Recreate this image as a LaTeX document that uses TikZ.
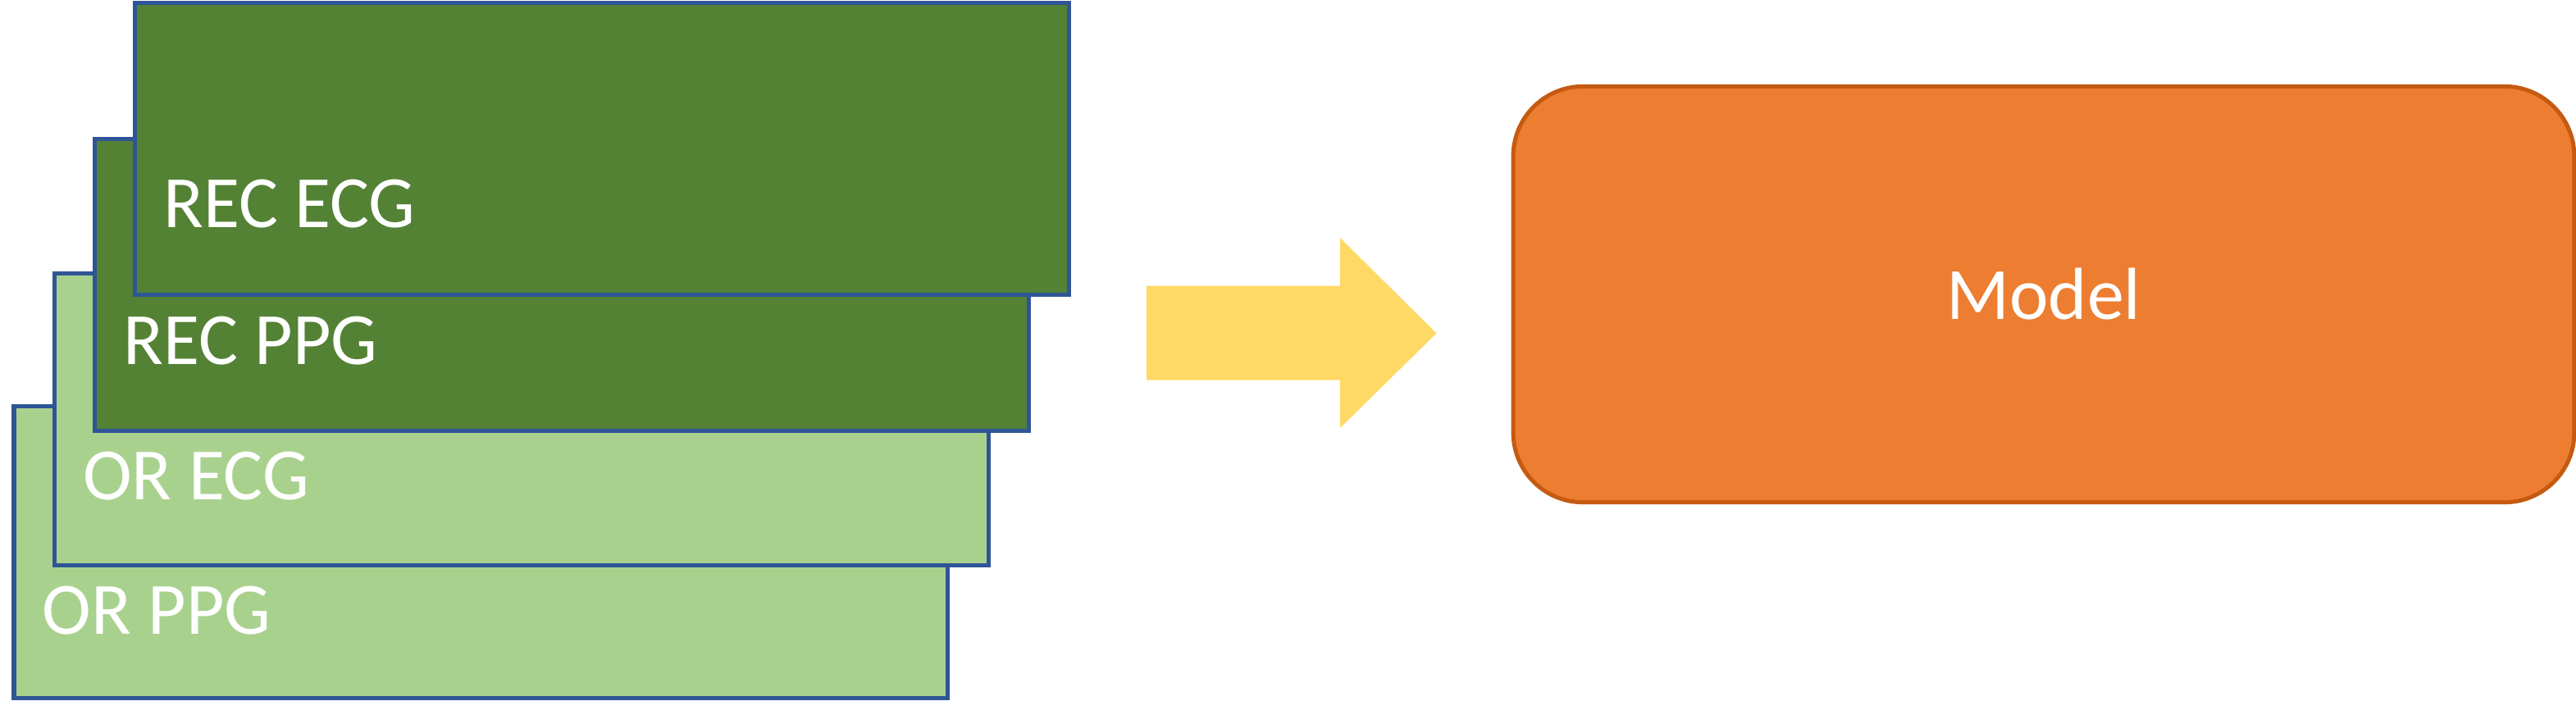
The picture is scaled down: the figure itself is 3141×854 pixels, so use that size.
\documentclass[tikz,border=0pt]{standalone}
\usepackage{fontspec}
\setmainfont{Carlito}
\definecolor{dkgreen}{HTML}{548235}
\definecolor{ltgreen}{HTML}{A9D18E}
\definecolor{bordblue}{HTML}{2F5597}
\definecolor{arrowyellow}{HTML}{FFD966}
\definecolor{modelorange}{HTML}{ED7D31}
\definecolor{modelbord}{HTML}{C55A11}
\begin{document}
\begin{tikzpicture}[x=0.01cm,y=-0.01cm,
  sigbox/.style={draw=bordblue, line width=0.05cm, minimum width=11.38cm, minimum height=3.565cm, anchor=north west, inner sep=0pt, outer sep=0pt},
  lbl/.style={text=white, font=\fontsize{25.6}{30}\selectfont, anchor=base west, inner sep=0pt},
  modelbox/.style={draw=modelbord, fill=modelorange, line width=0.05cm, rounded corners=0.85cm, minimum width=12.93cm, minimum height=5.07cm, inner sep=0pt, text=white, font=\fontsize{25.6}{30}\selectfont}]
\useasboundingbox (0,0) rectangle (3141,854);
\node[sigbox, fill=ltgreen] (orppg) at (17,495) {};
\node[lbl] (orppgt) at (51,773) {OR PPG};
\node[sigbox, fill=ltgreen] (orecg) at (66.5,333) {};
\node[lbl] (orecgt) at (100.5,609) {OR ECG};
\node[sigbox, fill=dkgreen] (recppg) at (115.5,169) {};
\node[lbl] (recppgt) at (150,444) {REC PPG};
\node[sigbox, fill=dkgreen] (rececg) at (164.5,3) {};
\node[lbl] (rececgt) at (199,277) {REC ECG};
\fill[arrowyellow] (1398,348.5) -- (1634,348.5) -- (1634,290) -- (1751.5,406.5) -- (1634,522) -- (1634,463.5) -- (1398,463.5) -- cycle;
\node[modelbox] (model) at (2492,359) {Model};
\end{tikzpicture}
\end{document}
